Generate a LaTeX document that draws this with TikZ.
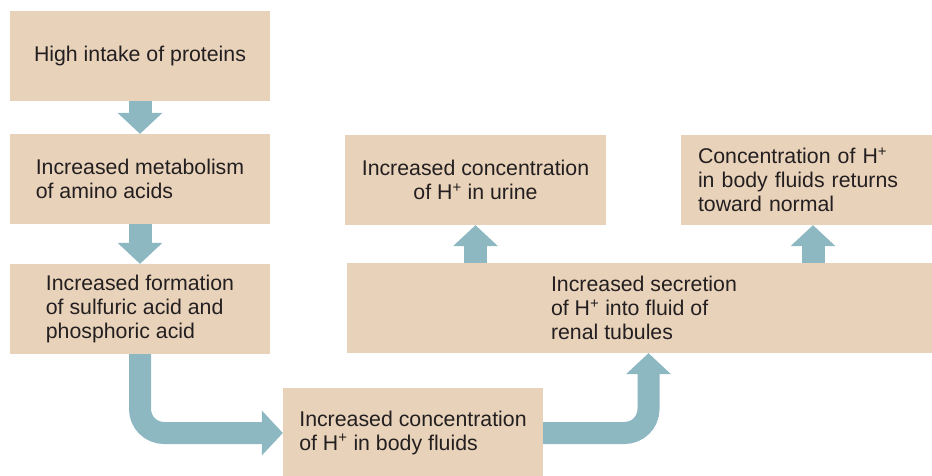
\documentclass[tikz,border=0pt]{standalone}
\usepackage{fontspec}
\setmainfont{Liberation Sans}
\usetikzlibrary{arrows.meta}
\definecolor{boxfill}{HTML}{E8D2BA}
\definecolor{flow}{HTML}{8DB8C2}
\definecolor{ink}{HTML}{231F20}
\newcommand{\Hplus}{H\textsuperscript{+}}
\begin{document}
\begin{tikzpicture}[x=1pt,y=-1pt,
  stage/.style={fill=boxfill, draw=none, minimum width=260pt, minimum height=90pt,
    inner sep=0pt, font=\fontsize{21.3}{24}\selectfont, text=ink, align=left},
  flowarrow/.style={draw=flow, line width=23pt,
    -{Triangle[length=21pt,width=45pt,line width=0pt]}}]
  \useasboundingbox (0,0) rectangle (932,475);
  \clip (0,0) rectangle (932,475);

  % left column
  \node[stage] (b1) at (140,56)  {High intake of proteins};
  \node[stage] (b2) at (140,179) {Increased metabolism\\of amino acids};
  \node[stage] (b3) at (140,309) {Increased formation\\of sulfuric acid and\\phosphoric acid};

  % bottom centre
  \node[stage] (b4) at (413,433) {Increased concentration\\of \Hplus{} in body fluids};

  % right part (wide box runs off the right edge)
  \node[stage, minimum width=594pt] (b5) at (644,308)
    {Increased secretion\\of \Hplus{} into fluid of\\renal tubules};
  \node[stage, align=center, minimum width=261pt] (b6) at (475.5,180)
    {Increased concentration\\of \Hplus{} in urine};
  \node[stage, text width=226pt] (b7) at (811,180)
    {Concentration of \Hplus\\in body fluids returns\\toward normal};

  % flow arrows
  \draw[flowarrow] (b1.south) -- (b2.north);
  \draw[flowarrow] (b2.south) -- (b3.north);
  \draw[flowarrow, line width=22pt, rounded corners=24pt] (b3.south) |- (b4.west);
  \draw[flowarrow, line width=22pt, rounded corners=24pt]
    (b4.east) -| ([xshift=4.5pt]b5.south);
  \draw[flowarrow] (b6.south |- b5.north) -- (b6.south);
  \draw[flowarrow] ([xshift=2pt]b7.south |- b5.north) -- ([xshift=2pt]b7.south);
\end{tikzpicture}
\end{document}
